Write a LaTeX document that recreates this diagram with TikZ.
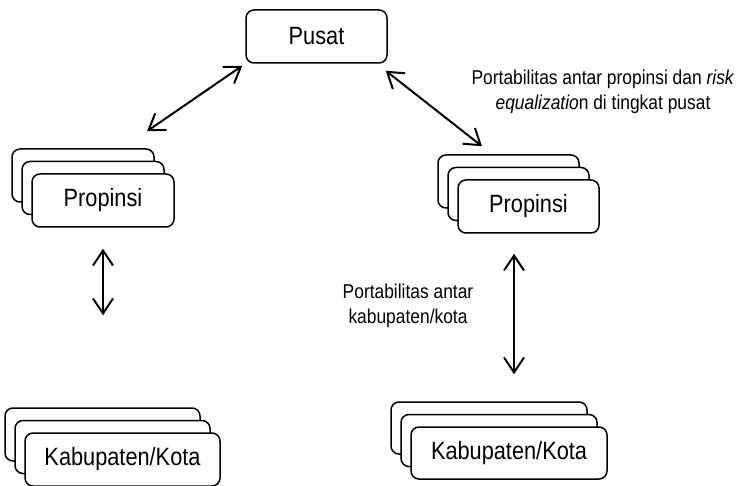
\documentclass[tikz,border=0pt]{standalone}
\usepackage{fontspec}
\setmainfont[FakeStretch=0.87]{Liberation Sans}
\usepackage{tikz}
\usetikzlibrary{arrows.meta, positioning, shadows}
\tikzset{%
  box/.style={rectangle, draw, fill=white, rounded corners=8pt, line width=1.5pt, text centered, minimum height=53pt, font=\fontsize{25}{29}\selectfont},
  stackbox/.style={box, copy shadow={shadow xshift=-20pt, shadow yshift=25pt}, copy shadow={shadow xshift=-10pt, shadow yshift=12.5pt}},
  note/.style={align=center, font=\fontsize{20}{25}\selectfont},
  dline/.style={draw, line width=2pt, {Straight Barb[length=15pt, width=20pt]}-{Straight Barb[length=15pt, width=20pt]}}}
\begin{document}
\begin{tikzpicture}[x=1pt, y=-1pt]
    \useasboundingbox (0, 0) rectangle (738, 486);

    \node [box, minimum width=141pt] (pusat) at (316.5, 36.5) {Pusat};

    \node [stackbox, minimum width=142pt] (propL) at (103, 200.5) {Propinsi};
    \node [stackbox, minimum width=141pt] (propR) at (528.5, 206.5) {Propinsi};

    \node [stackbox, minimum width=195pt] (kabL) at (122.5, 459.5) {Kabupaten/Kota};
    \node [stackbox, minimum width=196pt, minimum height=52pt] (kabR) at (509, 453) {Kabupaten/Kota};

    \node [note] (notePusat) at (603, 92) {Portabilitas antar propinsi dan \textit{risk}\\ \textit{equalizatio}n di tingkat pusat};
    \node [note] (noteKab) at (408, 306) {Portabilitas antar\\ kabupaten/kota};

    \path [dline] ([xshift=-3pt, yshift=-2pt]pusat.south west) -- ([xshift=44pt, yshift=42pt]propL.north);
    \path [dline] ([xshift=-2pt, yshift=-7pt]pusat.south east) -- ([xshift=-46.5pt, yshift=33pt]propR.north);

    \path [dline] ([yshift=-21pt]propL.south) -- ([xshift=-19.5pt, yshift=117pt]kabL.north);
    \path [dline] ([xshift=-14.5pt, yshift=-20pt]propR.south) -- ([xshift=5pt, yshift=52pt]kabR.north);
\end{tikzpicture}
\end{document}
